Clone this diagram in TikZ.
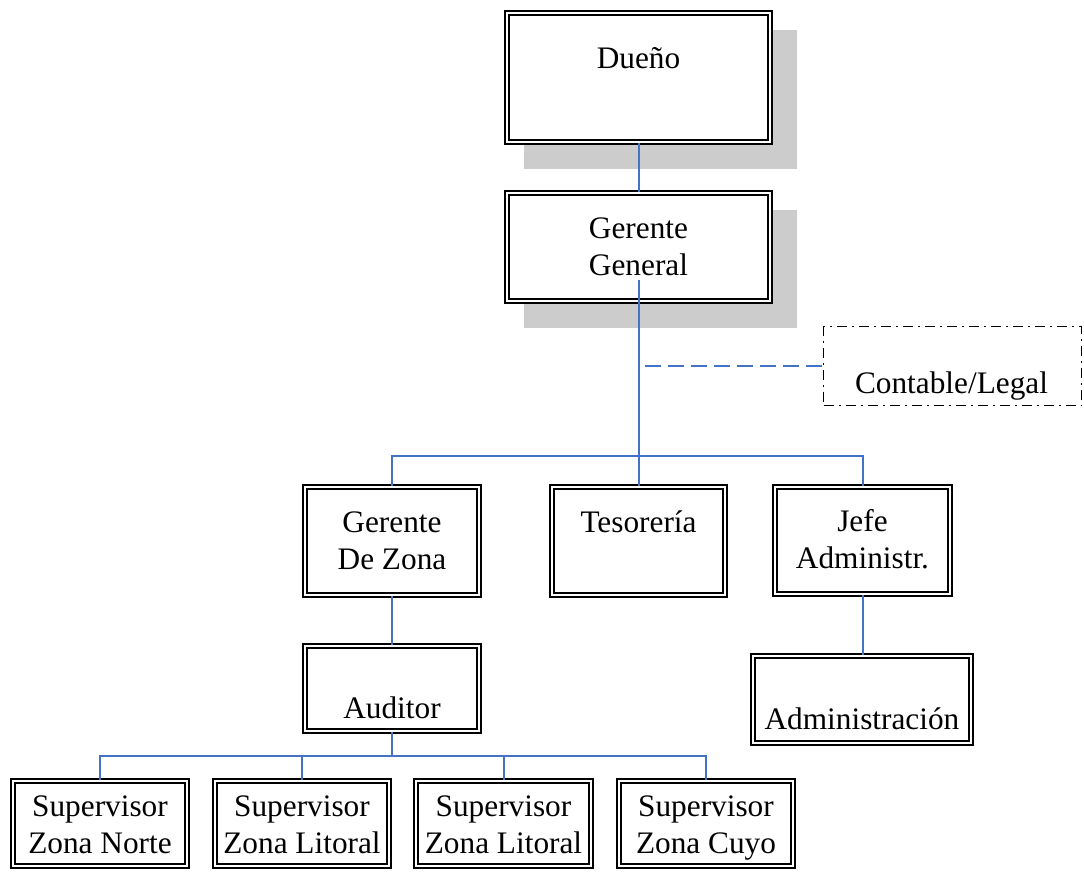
\documentclass[tikz,border=0pt]{standalone}
\usepackage{fontspec}
\setmainfont{Liberation Serif}
\usepackage{tikz}
\usetikzlibrary{positioning,backgrounds}
\definecolor{linkblue}{RGB}{68,114,196}
\definecolor{shadowgray}{RGB}{204,204,204}

\begin{document}
\begin{tikzpicture}[x=1pt, y=-1pt,
    box/.style={draw, fill=white, double, double distance=2pt, line width=1.8pt, inner sep=0pt},
    lbl/.style={font=\fontsize{31.3}{37}\selectfont, align=center, inner sep=0pt, anchor=base},
    link/.style={linkblue, line width=2pt},
    legal/.style={draw, line width=1.4pt, dash pattern=on 10pt off 5pt on 2pt off 5pt, inner sep=0pt}]
        \useasboundingbox (0,0) rectangle (1084,876);

        % Top boxes with shadow
        \node[box, minimum width=263.4pt, minimum height=129.4pt] (dueno) at (638.5,77.5) {};
        \node[box, minimum width=263.4pt, minimum height=108.4pt] (gerente) at (638.5,247) {};
        \begin{scope}[on background layer]
            \fill[shadowgray] ([shift={(18.3pt,-25.7pt)}]dueno.south west) rectangle ([shift={(25.7pt,-18.3pt)}]dueno.north east);
            \fill[shadowgray] ([shift={(18.3pt,-25.7pt)}]gerente.south west) rectangle ([shift={(25.7pt,-18.3pt)}]gerente.north east);
        \end{scope}
        \node[lbl] (duenoText) at (638.5,68) {Dueño};
        \node[lbl] (gerenteText) at (638.5,275) {Gerente\\General};

        % Advisory box
        \node[legal, minimum width=258pt, minimum height=79pt] (legal) at (952.5,366) {};
        \node[lbl] (legalText) at (951.5,393) {Contable/Legal};

        % Second level
        \node[box, minimum width=174.4pt, minimum height=108.4pt] (zona) at (392,541) {};
        \node[box, minimum width=173.4pt, minimum height=108.4pt] (tesoreria) at (638.5,541) {};
        \node[box, minimum width=175.4pt, minimum height=107.4pt] (jefe) at (862.5,540.5) {};
        \node[lbl] (zonaText) at (392,569) {Gerente\\De Zona};
        \node[lbl] (tesoreriaText) at (638.5,532) {Tesorería};
        \node[lbl] (jefeText) at (862.5,568) {Jefe\\Administr.};

        % Third level
        \node[box, minimum width=174.4pt, minimum height=85.4pt] (auditor) at (392,688.5) {};
        \node[box, minimum width=218.4pt, minimum height=87.4pt] (admin) at (862,699.5) {};
        \node[lbl] (auditorText) at (392,718) {Auditor};
        \node[lbl] (adminText) at (862,729) {Administración};

        % Supervisors
        \node[box, minimum width=174.4pt, minimum height=85.4pt] (supNorte) at (100,823.5) {};
        \node[box, minimum width=174.4pt, minimum height=85.4pt] (supLitoralA) at (302,823.5) {};
        \node[box, minimum width=175.4pt, minimum height=85.4pt] (supLitoralB) at (503.5,823.5) {};
        \node[box, minimum width=174.4pt, minimum height=85.4pt] (supCuyo) at (706,823.5) {};
        \node[lbl] (supNorteText) at (100,853) {Supervisor\\Zona Norte};
        \node[lbl] (supLitoralAText) at (302,853) {Supervisor\\Zona Litoral};
        \node[lbl] (supLitoralBText) at (503.5,853) {Supervisor\\Zona Litoral};
        \node[lbl] (supCuyoText) at (706,853) {Supervisor\\Zona Cuyo};

        % Connectors
        \coordinate (ggFoot) at (638.5,280);
        \coordinate (topBus) at (638.5,456);
        \coordinate (legalTap) at (645,366);
        \coordinate (supBus) at (392,756);

        \draw[link] (dueno.south) -- (gerente.north);
        \draw[link] (ggFoot) -- (tesoreria.north);
        \draw[link, dash pattern=on 16pt off 7pt] (legalTap) -- (legal.west);
        \draw[link] (zona.north) |- (topBus) -| (jefe.north);
        \draw[link] (zona.south) -- (auditor.north);
        \draw[link] (jefe.south) -- (jefe.south |- admin.north);
        \draw[link] (auditor.south) -- (supBus);
        \draw[link] (supNorte.north) |- (supBus) -| (supCuyo.north);
        \draw[link] (supLitoralA.north) -- (supLitoralA.north |- supBus);
        \draw[link] (supLitoralB.north) -- (supLitoralB.north |- supBus);
    \end{tikzpicture}
\end{document}
